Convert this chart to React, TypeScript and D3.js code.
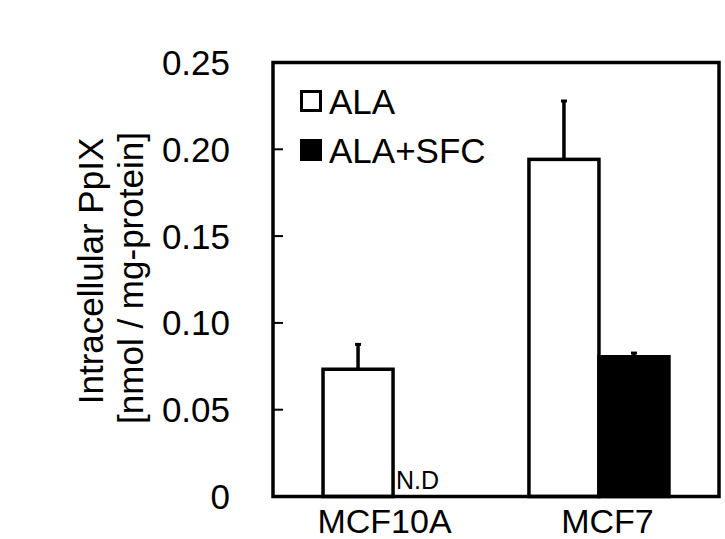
import * as d3 from "d3";

const categories = ["MCF10A", "MCF7"];
const seriesNames = ["ALA", "ALA+SFC"];
const alaValues = [0.0733, 0.1942];
const alaErrors = [0.0149, 0.0342];
const sfcValues = [null, 0.0805];
const sfcErrors = [null, 0.0027];
const yTicks = [0, 0.05, 0.1, 0.15, 0.2, 0.25];
const tickLabels = ["0", "0.05", "0.10", "0.15", "0.20", "0.25"];

const W = 725;
const H = 539;
const left = 273;
const right = 719;
const top = 62.5;
const bottom = 496.5;
const font = "'Liberation Sans', Arial, Helvetica, sans-serif";

export default function App() {
  const y = d3.scaleLinear().domain([0, 0.25]).range([bottom, top]);
  const xLabel = d3.scaleBand<string>().domain(categories).range([left, right]);
  const xGroup = d3
    .scaleBand<string>()
    .domain(categories)
    .range([left, right])
    .paddingInner(0.32)
    .paddingOuter(0.243);
  const xSeries = d3
    .scaleBand<string>()
    .domain(seriesNames)
    .range([0, xGroup.bandwidth()]);

  const series = [
    { name: seriesNames[0], values: alaValues, errors: alaErrors, fill: "#fff" },
    { name: seriesNames[1], values: sfcValues, errors: sfcErrors, fill: "#000" },
  ];

  return (
    <svg
      width={W}
      height={H}
      style={{ position: "absolute", left: 0, top: 0, background: "#fff" }}
      fontFamily={font}
    >
      {yTicks.map((t, i) => (
        <g key={t}>
          <line x1={left} x2={left + 10} y1={y(t)} y2={y(t)} stroke="#000" strokeWidth={2} />
          <text x={230} y={y(t) + 12.5} fontSize={35} textAnchor="end">
            {tickLabels[i]}
          </text>
        </g>
      ))}

      {series.map((s) =>
        categories.map((c, i) => {
          const v = s.values[i];
          const x0 = (xGroup(c) ?? 0) + (xSeries(s.name) ?? 0);
          const bw = xSeries.bandwidth();
          if (v == null) {
            return (
              <text key={s.name + c} x={x0 + 3} y={489} fontSize={25}>
                N.D
              </text>
            );
          }
          const e = s.errors[i] ?? 0;
          const cx = x0 + bw / 2;
          return (
            <g key={s.name + c}>
              <line x1={cx} x2={cx} y1={y(v)} y2={y(v + e)} stroke="#000" strokeWidth={3.5} />
              <line x1={cx - 3} x2={cx + 3} y1={y(v + e) + 1} y2={y(v + e) + 1} stroke="#000" strokeWidth={3} />
              <rect
                x={x0}
                y={y(v)}
                width={bw}
                height={y(0) - y(v)}
                fill={s.fill}
                stroke="#000"
                strokeWidth={3.5}
              />
            </g>
          );
        })
      )}

      <rect
        x={left}
        y={top}
        width={right - left}
        height={bottom - top}
        fill="none"
        stroke="#000"
        strokeWidth={3.5}
      />

      {categories.map((c) => (
        <text
          key={c}
          x={(xLabel(c) ?? 0) + xLabel.bandwidth() / 2}
          y={532.5}
          fontSize={34}
          textAnchor="middle"
        >
          {c}
        </text>
      ))}

      {series.map((s, i) => (
        <g key={s.name}>
          <rect
            x={301.5}
            y={91.5 + i * 49}
            width={19}
            height={19}
            fill={s.fill}
            stroke="#000"
            strokeWidth={3}
          />
          <text x={329} y={113.5 + i * 49} fontSize={35}>
            {s.name}
          </text>
        </g>
      ))}

      <text transform="translate(103,271) rotate(-90)" fontSize={35} textAnchor="middle">
        Intracellular PpIX
      </text>
      <text transform="translate(143,278) rotate(-90)" fontSize={35} textAnchor="middle">
        [nmol / mg-protein]
      </text>
    </svg>
  );
}
